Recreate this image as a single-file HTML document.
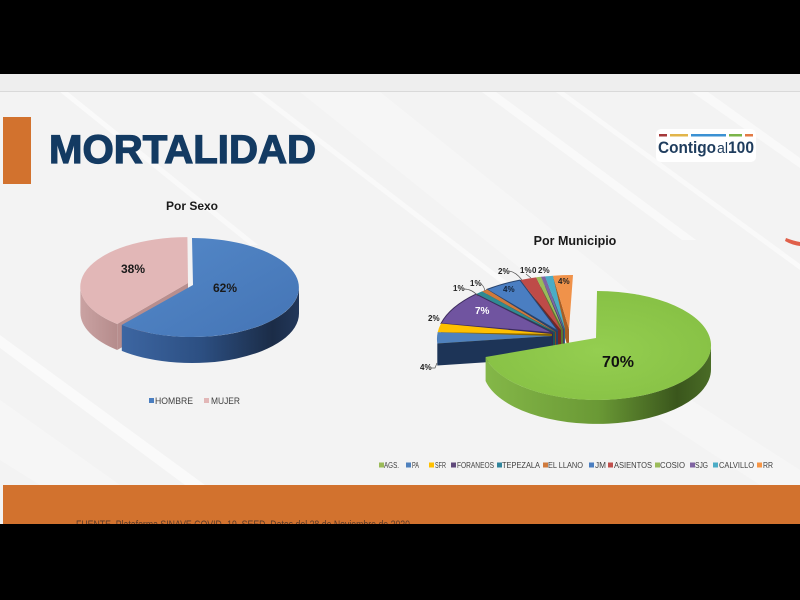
<!DOCTYPE html>
<html><head><meta charset="utf-8"><style>
html,body{margin:0;padding:0;background:#000;}
svg{display:block;}
text{font-family:"Liberation Sans",sans-serif;}
</style></head><body>
<svg width="800" height="600" viewBox="0 0 800 600" xmlns="http://www.w3.org/2000/svg">
<defs>
<linearGradient id="bSide" x1="0" y1="0" x2="1" y2="0">
<stop offset="0" stop-color="#3d66a2"/><stop offset="0.45" stop-color="#2c4f82"/><stop offset="0.85" stop-color="#1b2c47"/><stop offset="1" stop-color="#22375a"/></linearGradient>
<linearGradient id="bTop" x1="0" y1="0" x2="1" y2="1">
<stop offset="0" stop-color="#5489c9"/><stop offset="1" stop-color="#4474b5"/></linearGradient>
<linearGradient id="gSide" x1="0" y1="0" x2="1" y2="0">
<stop offset="0" stop-color="#84b748"/><stop offset="0.5" stop-color="#6a9935"/><stop offset="0.85" stop-color="#3a561c"/><stop offset="1" stop-color="#4a6c26"/></linearGradient>
<radialGradient id="gTop" cx="0.5" cy="0.55" r="0.6">
<stop offset="0" stop-color="#94ce50"/><stop offset="1" stop-color="#86c044"/></radialGradient>
<linearGradient id="pSide" x1="0" y1="0" x2="1" y2="0">
<stop offset="0" stop-color="#caa2a2"/><stop offset="1" stop-color="#b58c8c"/></linearGradient>
</defs>

<rect x="0" y="0" width="800" height="600" fill="#000"/>
<rect x="0" y="74" width="800" height="18" fill="#eeeeee"/>
<rect x="0" y="91" width="800" height="1" fill="#d9d9d9"/>
<rect x="0" y="92" width="800" height="432" fill="#f3f3f3"/>
<g fill="#ffffff" opacity="0.55">
<polygon points="60,92 68,92 258,245 250,245"/>
<polygon points="482,92 496,92 696,240 682,240"/>
<polygon points="556,92 564,92 800,264 800,270"/>
<polygon points="692,92 708,92 800,158 800,168"/>
<polygon points="0,335 0,348 185,485 205,485"/>
<polygon points="252,92 260,92 518,290 510,290"/>
</g>
<g fill="#ffffff" opacity="0.3">
<polygon points="300,92 380,92 640,300 560,300"/>
<polygon points="0,400 0,460 40,485 120,485"/>
<polygon points="600,380 660,380 800,470 800,485 760,485"/>
</g>
<path d="M786,238 Q794,241 800,242 L800,246 Q792,245 785,241 Z" fill="#e0604a"/>

<rect x="3" y="485" width="797" height="39" fill="#d2722e"/>
<text x="76" y="528" font-size="11" fill="#5a3a28" textLength="334" lengthAdjust="spacingAndGlyphs">FUENTE. Plataforma SINAVE COVID -19. SEED. Datos del 28 de Noviembre de 2020</text>
<rect x="0" y="524" width="800" height="76" fill="#000"/>

<rect x="3" y="117" width="28" height="67" fill="#d2722e"/>
<text x="49" y="163" font-size="40" font-weight="bold" fill="#133a62" stroke="#133a62" stroke-width="1.2" textLength="267" lengthAdjust="spacingAndGlyphs">MORTALIDAD</text>

<rect x="656" y="129" width="100" height="33" rx="5" fill="#ffffff"/>
<rect x="659" y="134" width="8" height="2.5" fill="#a5383a"/>
<rect x="670" y="134" width="18" height="2.5" fill="#e2b54a"/>
<rect x="691" y="134" width="35" height="2.5" fill="#3b91d3"/>
<rect x="729" y="134" width="13" height="2.5" fill="#7bb54a"/>
<rect x="745" y="134" width="8" height="2.5" fill="#e27a44"/>
<text x="658" y="153" font-size="17" font-weight="bold" fill="#1f3d5e" textLength="58" lengthAdjust="spacingAndGlyphs">Contigo</text>
<text x="717" y="153" font-size="15" fill="#1f3d5e" textLength="11" lengthAdjust="spacingAndGlyphs">al</text>
<text x="728" y="153" font-size="17" font-weight="bold" fill="#1f3d5e" textLength="26" lengthAdjust="spacingAndGlyphs">100</text>

<text x="192" y="210" font-size="12" font-weight="bold" fill="#1a1a1a" text-anchor="middle">Por Sexo</text>
<path d="M117.2,324 A107,49.5 0 0 1 80.4,286.6 L80.4,312.6 A107,49.5 0 0 0 117.2,350 Z" fill="url(#pSide)"/>
<polygon points="188,283 117.2,324 117.2,350 188,309" fill="#b88e8e"/>
<path d="M188,283 L117.2,324 A107,49.5 0 0 1 187.4,237.1 Z" fill="#e2b7b7"/>
<path d="M299,287.5 A107,49.5 0 0 1 121.8,324.9 L121.8,350.9 A107,49.5 0 0 0 299,313.5 Z" fill="url(#bSide)"/>
<path d="M193,285 L192,238 A107,49.5 0 1 1 121.8,324.9 Z" fill="url(#bTop)"/>
<text x="225" y="292" font-size="12" font-weight="bold" fill="#1a1a1a" text-anchor="middle">62%</text>
<text x="133" y="273" font-size="12" font-weight="bold" fill="#1a1a1a" text-anchor="middle">38%</text>
<rect x="149" y="398" width="5" height="5" fill="#4a7ec0"/>
<text x="155" y="404" font-size="9" fill="#404040" textLength="38" lengthAdjust="spacingAndGlyphs">HOMBRE</text>
<rect x="204" y="398" width="5" height="5" fill="#e2b7b7"/>
<text x="211" y="404" font-size="9" fill="#404040" textLength="29" lengthAdjust="spacingAndGlyphs">MUJER</text>

<text x="575" y="245" font-size="12.5" font-weight="bold" fill="#1a1a1a" text-anchor="middle">Por Municipio</text>

<polygon points="569,329 552.9,275.7 552.9,297.7 569,351" fill="#a85e24"/>
<path d="M569,329 L552.9,275.7 A136,64 0 0 1 573,275 Z" fill="#f0924a"/>
<polygon points="565,329 545,276.4 545,298.4 565,351" fill="#2a6e80"/>
<path d="M565,329 L545,276.4 A136,64 0 0 1 552.9,275.7 Z" fill="#4bacc6"/>
<polygon points="564,329.5 541,276.8 541,298.8 564,351.5" fill="#4a3a66"/>
<path d="M564,329.5 L541,276.8 A136,64 0 0 1 545,276.4 Z" fill="#8064a2"/>
<polygon points="563,330 536,277.4 536,299.4 563,352" fill="#5c772e"/>
<path d="M563,330 L536,277.4 A136,64 0 0 1 541,276.8 Z" fill="#9bbb59"/>
<polygon points="561,330 519.9,280.1 519.9,302.1 561,352" fill="#742624"/>
<path d="M561,330 L519.9,280.1 A136,64 0 0 1 536,277.4 Z" fill="#be4b48"/>
<polygon points="558,331 487,289.4 487,311.4 558,353" fill="#263f66"/>
<path d="M558,331 L487,289.4 A136,64 0 0 1 519.9,280.1 Z" fill="#4a7ec2" stroke="#2a4670" stroke-width="1"/>
<polygon points="556,332 482,291.4 482,313.4 556,354" fill="#7e4520"/>
<path d="M556,332 L482,291.4 A136,64 0 0 1 487,289.4 Z" fill="#cf7a3c"/>
<polygon points="555,332 476,294.1 476,316.1 555,354" fill="#1c5358"/>
<path d="M555,332 L476,294.1 A136,64 0 0 1 482,291.4 Z" fill="#2f8a92"/>
<polygon points="553,333 441,323.5 441,345.5 553,355" fill="#33254e"/>
<path d="M553,333 L441,323.5 A136,64 0 0 1 476,294.1 Z" fill="#7054a0" stroke="#3d2c5e" stroke-width="1"/>
<polygon points="552,334 437.7,332.3 437.7,354.3 552,356" fill="#8a6700"/>
<path d="M552,334 L437.7,332.3 A136,64 0 0 1 441,323.5 Z" fill="#ffc000"/>
<polygon points="552,336 437.3,343.5 437.3,365.5 552,358" fill="#1d3457"/>
<path d="M552,336 L437.3,343.5 A136,64 0 0 1 437.7,332.3 Z" fill="#4f81bd"/>

<path d="M711,345.5 A114,54.5 0 0 1 485.6,357 L485.6,381 A114,54.5 0 0 0 711,369.5 Z" fill="url(#gSide)"/>
<path d="M596,338 L597,291 A114,54.5 0 1 1 485.6,357 Z" fill="url(#gTop)"/>
<text x="618" y="367" font-size="16" font-weight="bold" fill="#111" text-anchor="middle">70%</text>

<g font-size="8" font-weight="bold" fill="#222">
<text x="420" y="370">4%</text>
<text x="428" y="321">2%</text>
<text x="453" y="291">1%</text>
<text x="470" y="286">1%</text>
<text x="503" y="292" fill="#14243a">4%</text>
<text x="498" y="274">2%</text>
<text x="520" y="273">1%</text>
<text x="532" y="273">0</text>
<text x="538" y="273">2%</text>
<text x="558" y="284">4%</text>
</g>
<text x="475" y="314" font-size="10" font-weight="bold" fill="#ffffff">7%</text>
<g fill="none" stroke="#555" stroke-width="0.7">
<polyline points="431,368 435,368 437,363"/>
<path d="M464,289 Q472,289 478,296"/>
<path d="M481,284 Q484,286 485,291"/>
<path d="M509,271 Q516,272 522,280"/>
<path d="M526,274 L531,278"/>
</g>

<g font-size="8" fill="#404040">
<rect x="379" y="462.5" width="5" height="5" fill="#9bbb59"/><text x="384" y="468" textLength="15" lengthAdjust="spacingAndGlyphs">AGS.</text>
<rect x="406" y="462.5" width="5" height="5" fill="#4f81bd"/><text x="412" y="468" textLength="7" lengthAdjust="spacingAndGlyphs">PA</text>
<rect x="429" y="462.5" width="5" height="5" fill="#ffc000"/><text x="435" y="468" textLength="11" lengthAdjust="spacingAndGlyphs">SFR</text>
<rect x="451" y="462.5" width="5" height="5" fill="#604a7b"/><text x="457" y="468" textLength="37" lengthAdjust="spacingAndGlyphs">FORANEOS</text>
<rect x="497" y="462.5" width="5" height="5" fill="#31859c"/><text x="502" y="468" textLength="38" lengthAdjust="spacingAndGlyphs">TEPEZALA</text>
<rect x="543" y="462.5" width="5" height="5" fill="#d07a3c"/><text x="548" y="468" textLength="35" lengthAdjust="spacingAndGlyphs">EL LLANO</text>
<rect x="589" y="462.5" width="5" height="5" fill="#4a7ec0"/><text x="595" y="468" textLength="11" lengthAdjust="spacingAndGlyphs">JM</text>
<rect x="608" y="462.5" width="5" height="5" fill="#c0504d"/><text x="614" y="468" textLength="38" lengthAdjust="spacingAndGlyphs">ASIENTOS</text>
<rect x="655" y="462.5" width="5" height="5" fill="#9bbb59"/><text x="660" y="468" textLength="25" lengthAdjust="spacingAndGlyphs">COSIO</text>
<rect x="690" y="462.5" width="5" height="5" fill="#8064a2"/><text x="695" y="468" textLength="13" lengthAdjust="spacingAndGlyphs">SJG</text>
<rect x="713" y="462.5" width="5" height="5" fill="#4bacc6"/><text x="719" y="468" textLength="35" lengthAdjust="spacingAndGlyphs">CALVILLO</text>
<rect x="757" y="462.5" width="5" height="5" fill="#f79646"/><text x="763" y="468" textLength="10" lengthAdjust="spacingAndGlyphs">RR</text>
</g>
</svg>
</body></html>
